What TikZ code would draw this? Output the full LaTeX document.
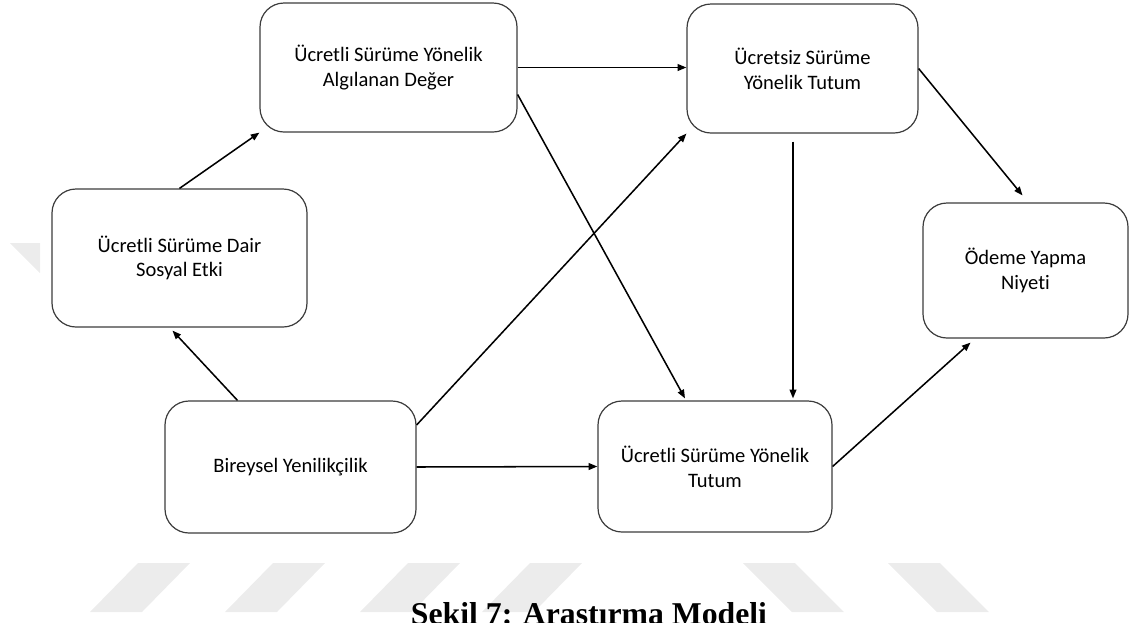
\documentclass[tikz,border=0pt]{standalone}
\usepackage{fontspec}
\setmainfont{Carlito}[Ligatures={NoCommon}]
\newfontfamily\capfont{Liberation Serif}
\usetikzlibrary{arrows.meta,calc}
\definecolor{boxgray}{HTML}{3C3C3C}
\definecolor{wmgray}{HTML}{ECECEC}
\newcommand\pxu{0.75pt}
\begin{document}
\begin{tikzpicture}[x=0.75pt,y=-0.75pt,
  box/.style={draw=boxgray, line width=0.9pt, rounded corners=18pt, fill=white,
    align=center, inner sep=0pt, text=black,
    font=\fontsize{15.4}{18.6}\selectfont},
  link/.style={line width=1.15pt, -{Triangle[length=6.5pt,width=5pt]}},
  stripe/.style={fill=wmgray, draw=none}]
\useasboundingbox (0,0) rectangle (1129,622);
\clip (0,0) rectangle (1129,622);

% background stripes
\fill[stripe] (90,612) -- (142,612) -- (190,563) -- (138,563) -- cycle;
\fill[stripe] (225,612) -- (277,612) -- (325,563) -- (273,563) -- cycle;
\fill[stripe] (360,612) -- (412,612) -- (460,563) -- (408,563) -- cycle;
\fill[stripe] (482,612) -- (534,612) -- (582,563) -- (530,563) -- cycle;
\fill[stripe] (743,563) -- (795,563) -- (844,612) -- (792,612) -- cycle;
\fill[stripe] (888,563) -- (940,563) -- (989,612) -- (937,612) -- cycle;
\fill[stripe] (10,243) -- (40,243) -- (40,273) -- cycle;

% boxes
\node[box, minimum width=257*\pxu, minimum height=129*\pxu] (A) at (388.5,67.5)
  {Ücretli Sürüme Yönelik\\Algılanan Değer};
\node[box, minimum width=231*\pxu, minimum height=129*\pxu] (B) at (802.5,68.5)
  {Ücretsiz Sürüme\\Yönelik Tutum};
\node[box, minimum width=255*\pxu, minimum height=138*\pxu] (C) at (179.5,258)
  {Ücretli Sürüme Dair\\Sosyal Etki};
\node[box, minimum width=205*\pxu, minimum height=135*\pxu] (D) at (1025.5,270.5)
  {Ödeme Yapma\\Niyeti};
\node[box, minimum width=251*\pxu, minimum height=132*\pxu] (E) at (290.5,467)
  {Bireysel Yenilikçilik};
\node[box, minimum width=234*\pxu, minimum height=131*\pxu] (F) at (715,466.5)
  {Ücretli Sürüme Yönelik\\Tutum};

% connectors
\draw[link] (C.north) -- (A.south west);
\draw[link] ($(E.north)+(-53,0)$) -- ($(C.south)+(-7,3)$);
\draw[link] (A.east) -- (A.east -| B.west);
\draw[link] ($(A.east)+(0,27)$) -- ($(F.north)+(-30,-2)$);
\draw[link] ($(E.east)+(0,-42)$) -- (B.south west);
\draw[link] ($(B.south)+(-9.5,8)$) -- ($(F.north)+(78,-2)$);
\draw[link] (B.east) -- ($(D.north)+(-3,-7)$);
\draw[link] (E.east) -- (F.west);
\draw[link] (F.east) -- ($(D.south)+(-55,4)$);

% caption
\node[anchor=base, inner sep=0pt, font=\capfont\bfseries\fontsize{23.8}{28}\selectfont]
  (cap) at (589,624) {Şekil 7: Araştırma Modeli};
\end{tikzpicture}
\end{document}
